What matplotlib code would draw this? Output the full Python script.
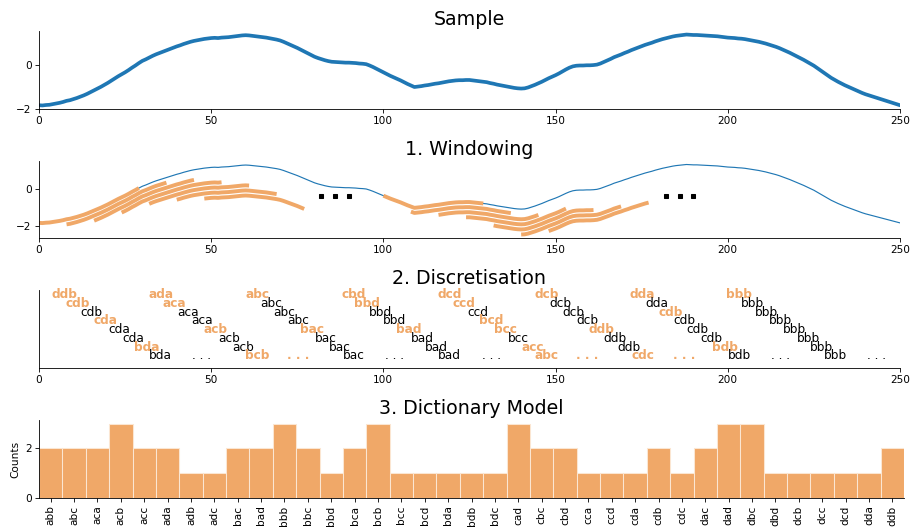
import numpy as np
import matplotlib.pyplot as plt

ORANGE = "#f0a868"
BLUE = "#1f77b4"

# sample time series, one value per time point (t = 0..250)
sample = np.array([
    -1.85, -1.86, -1.84, -1.83, -1.80, -1.77, -1.74, -1.70, -1.65, -1.62,
    -1.57, -1.52, -1.46, -1.40, -1.33, -1.25, -1.17, -1.09, -1.01, -0.92,
    -0.83, -0.73, -0.63, -0.53, -0.44, -0.35, -0.25, -0.14, -0.04, 0.07,
    0.17, 0.24, 0.32, 0.40, 0.47, 0.53, 0.59, 0.65, 0.71, 0.77,
    0.83, 0.88, 0.94, 0.99, 1.04, 1.08, 1.11, 1.14, 1.17, 1.19,
    1.21, 1.22, 1.21, 1.23, 1.24, 1.25, 1.27, 1.29, 1.31, 1.33,
    1.34, 1.33, 1.31, 1.29, 1.27, 1.25, 1.23, 1.20, 1.17, 1.14,
    1.10, 1.04, 0.97, 0.90, 0.83, 0.76, 0.68, 0.60, 0.52, 0.44,
    0.36, 0.30, 0.25, 0.20, 0.16, 0.13, 0.12, 0.11, 0.10, 0.09,
    0.09, 0.08, 0.07, 0.05, 0.04, 0.02, -0.04, -0.11, -0.19, -0.27,
    -0.35, -0.43, -0.51, -0.58, -0.65, -0.72, -0.80, -0.88, -0.95, -1.02,
    -1.00, -0.98, -0.95, -0.93, -0.90, -0.87, -0.85, -0.82, -0.79, -0.76,
    -0.74, -0.72, -0.71, -0.71, -0.70, -0.70, -0.72, -0.74, -0.76, -0.78,
    -0.80, -0.84, -0.87, -0.91, -0.94, -0.97, -1.00, -1.03, -1.06, -1.08,
    -1.09, -1.08, -1.04, -0.98, -0.92, -0.85, -0.78, -0.70, -0.62, -0.55,
    -0.48, -0.40, -0.31, -0.22, -0.14, -0.08, -0.05, -0.04, -0.04, -0.03,
    -0.03, -0.02, 0.00, 0.05, 0.12, 0.19, 0.26, 0.34, 0.40, 0.46,
    0.53, 0.59, 0.66, 0.72, 0.78, 0.84, 0.90, 0.95, 1.00, 1.06,
    1.11, 1.16, 1.20, 1.24, 1.28, 1.31, 1.33, 1.35, 1.37, 1.36,
    1.35, 1.35, 1.34, 1.33, 1.32, 1.31, 1.30, 1.29, 1.27, 1.25,
    1.23, 1.22, 1.21, 1.19, 1.18, 1.16, 1.13, 1.10, 1.07, 1.04,
    1.00, 0.96, 0.91, 0.86, 0.81, 0.75, 0.68, 0.61, 0.54, 0.46,
    0.38, 0.30, 0.22, 0.13, 0.04, -0.05, -0.16, -0.27, -0.38, -0.49,
    -0.60, -0.69, -0.78, -0.86, -0.94, -1.01, -1.08, -1.15, -1.22, -1.29,
    -1.35, -1.40, -1.45, -1.50, -1.55, -1.60, -1.65, -1.70, -1.75, -1.80,
    -1.85,
])

# sliding windows shown in two bundles
window_size = 30
window_starts = [
    [0, 8, 16, 24, 32, 40, 48],
    [100, 108, 116, 124, 132, 140, 148],
]
window_shift = 0.28
window_dots_x = [[82, 86, 90], [182, 186, 190]]
window_dots_y = -0.36

# SFA words, one list per cascade
word_groups = [
    ["ddb", "cdb", "cdb", "cda", "cda", "cda", "bda", "bda"],
    ["ada", "aca", "aca", "aca", "acb", "acb", "acb", "bcb"],
    ["abc", "abc", "abc", "abc", "bac", "bac", "bac", "bac"],
    ["cbd", "bbd", "bbd", "bbd", "bad", "bad", "bad", "bad"],
    ["dcd", "ccd", "ccd", "bcd", "bcc", "bcc", "acc", "abc"],
    ["dcb", "dcb", "dcb", "dcb", "ddb", "ddb", "ddb", "cdc"],
    ["dda", "dda", "cdb", "cdb", "cdb", "cdb", "bdb", "bdb"],
    ["bbb", "bbb", "bbb", "bbb", "bbb", "bbb", "bbb", "bbb"],
]
group_dots_new = [False, True, False, False, True, True, False, False]
word_x0 = 7.3
word_step = 4

# bag of words after numerosity reduction
dict_words = [
    "abb", "abc", "aca", "acb", "acc", "ada", "adb", "adc", "bac", "bad",
    "bbb", "bbc", "bbd", "bca", "bcb", "bcc", "bcd", "bda", "bdb", "bdc",
    "cad", "cbc", "cbd", "cca", "ccd", "cda", "cdb", "cdc", "dac", "dad",
    "dbc", "dbd", "dcb", "dcc", "dcd", "dda", "ddb",
]
dict_counts = [
    2, 2, 2, 3, 2, 2, 1, 1, 2, 2,
    3, 2, 1, 2, 3, 1, 1, 1, 1, 1,
    3, 2, 2, 1, 1, 1, 2, 1, 2, 3,
    3, 1, 1, 1, 1, 1, 2,
]

plt.rcParams["font.family"] = "DejaVu Sans"
plt.rcParams["font.size"] = 10

W, H = 912, 529
fig = plt.figure(figsize=(W / 76, H / 76), dpi=76)


def add_panel(left, top, right, bottom):
    ax = fig.add_axes([left / W, 1 - bottom / H, (right - left) / W, (bottom - top) / H])
    ax.spines["top"].set_visible(False)
    ax.spines["right"].set_visible(False)
    return ax


t = np.arange(len(sample))

# Sample
ax1 = add_panel(39, 31, 900, 109)
ax1.plot(t, sample, color=BLUE, lw=3.5)
ax1.set_xlim(0, 250)
ax1.set_xticks(np.arange(0, 251, 50))
ax1.set_yticks([-2, 0])
ax1.set_title("Sample", fontsize=18)

# Windowing
ax2 = add_panel(39, 161, 900, 238)
ax2.plot(t, sample, color=BLUE, lw=1.1)
for starts in window_starts:
    for k, s in enumerate(starts):
        idx = np.arange(s, s + window_size)
        ax2.plot(idx, sample[idx] - k * window_shift, color=ORANGE, lw=3.7,
                 solid_capstyle="butt")
for dots in window_dots_x:
    ax2.plot(dots, [window_dots_y] * len(dots), "s", color="black", ms=3.5)
ax2.set_xlim(0, 250)
ax2.set_xticks(np.arange(0, 251, 50))
ax2.set_yticks([-2, 0])
ax2.set_title("1. Windowing", fontsize=18)

# Discretisation
ax3 = add_panel(39, 290, 900, 368)
prev = None
n_rows = len(word_groups[0])
for g, words in enumerate(word_groups):
    for k, w in enumerate(words):
        new = w != prev
        prev = w
        ax3.text(word_x0 + word_step * ((n_rows - 1) * g + k), n_rows - 1 - k, w,
                 ha="center", va="center", fontsize=11.5,
                 color=ORANGE if new else "black",
                 fontweight="bold" if new else "normal")
    dot_new = group_dots_new[g]
    ax3.text(word_x0 + word_step * ((n_rows - 1) * g + n_rows - 1 + 3), 0, ". . .",
             ha="center", va="center", fontsize=11.5,
             color=ORANGE if dot_new else "black",
             fontweight="bold" if dot_new else "normal")
ax3.set_xlim(0, 250)
ax3.set_ylim(-1.4, 7.55)
ax3.set_xticks(np.arange(0, 251, 50))
ax3.set_yticks([])
ax3.set_title("2. Discretisation", fontsize=18)

# Dictionary Model
ax4 = add_panel(39, 420, 904, 498)
ax4.bar(np.arange(len(dict_words)), dict_counts, width=1.0,
        color=ORANGE, edgecolor="#fbe6d2", lw=1)
ax4.set_xlim(-0.5, len(dict_words) - 0.5)
ax4.set_xticks(np.arange(len(dict_words)))
ax4.set_xticklabels(dict_words, rotation=90)
ax4.set_yticks([0, 2])
ax4.set_ylabel("Counts")
ax4.set_title("3. Dictionary Model", fontsize=18)

fig.savefig("out.png", dpi=76)
